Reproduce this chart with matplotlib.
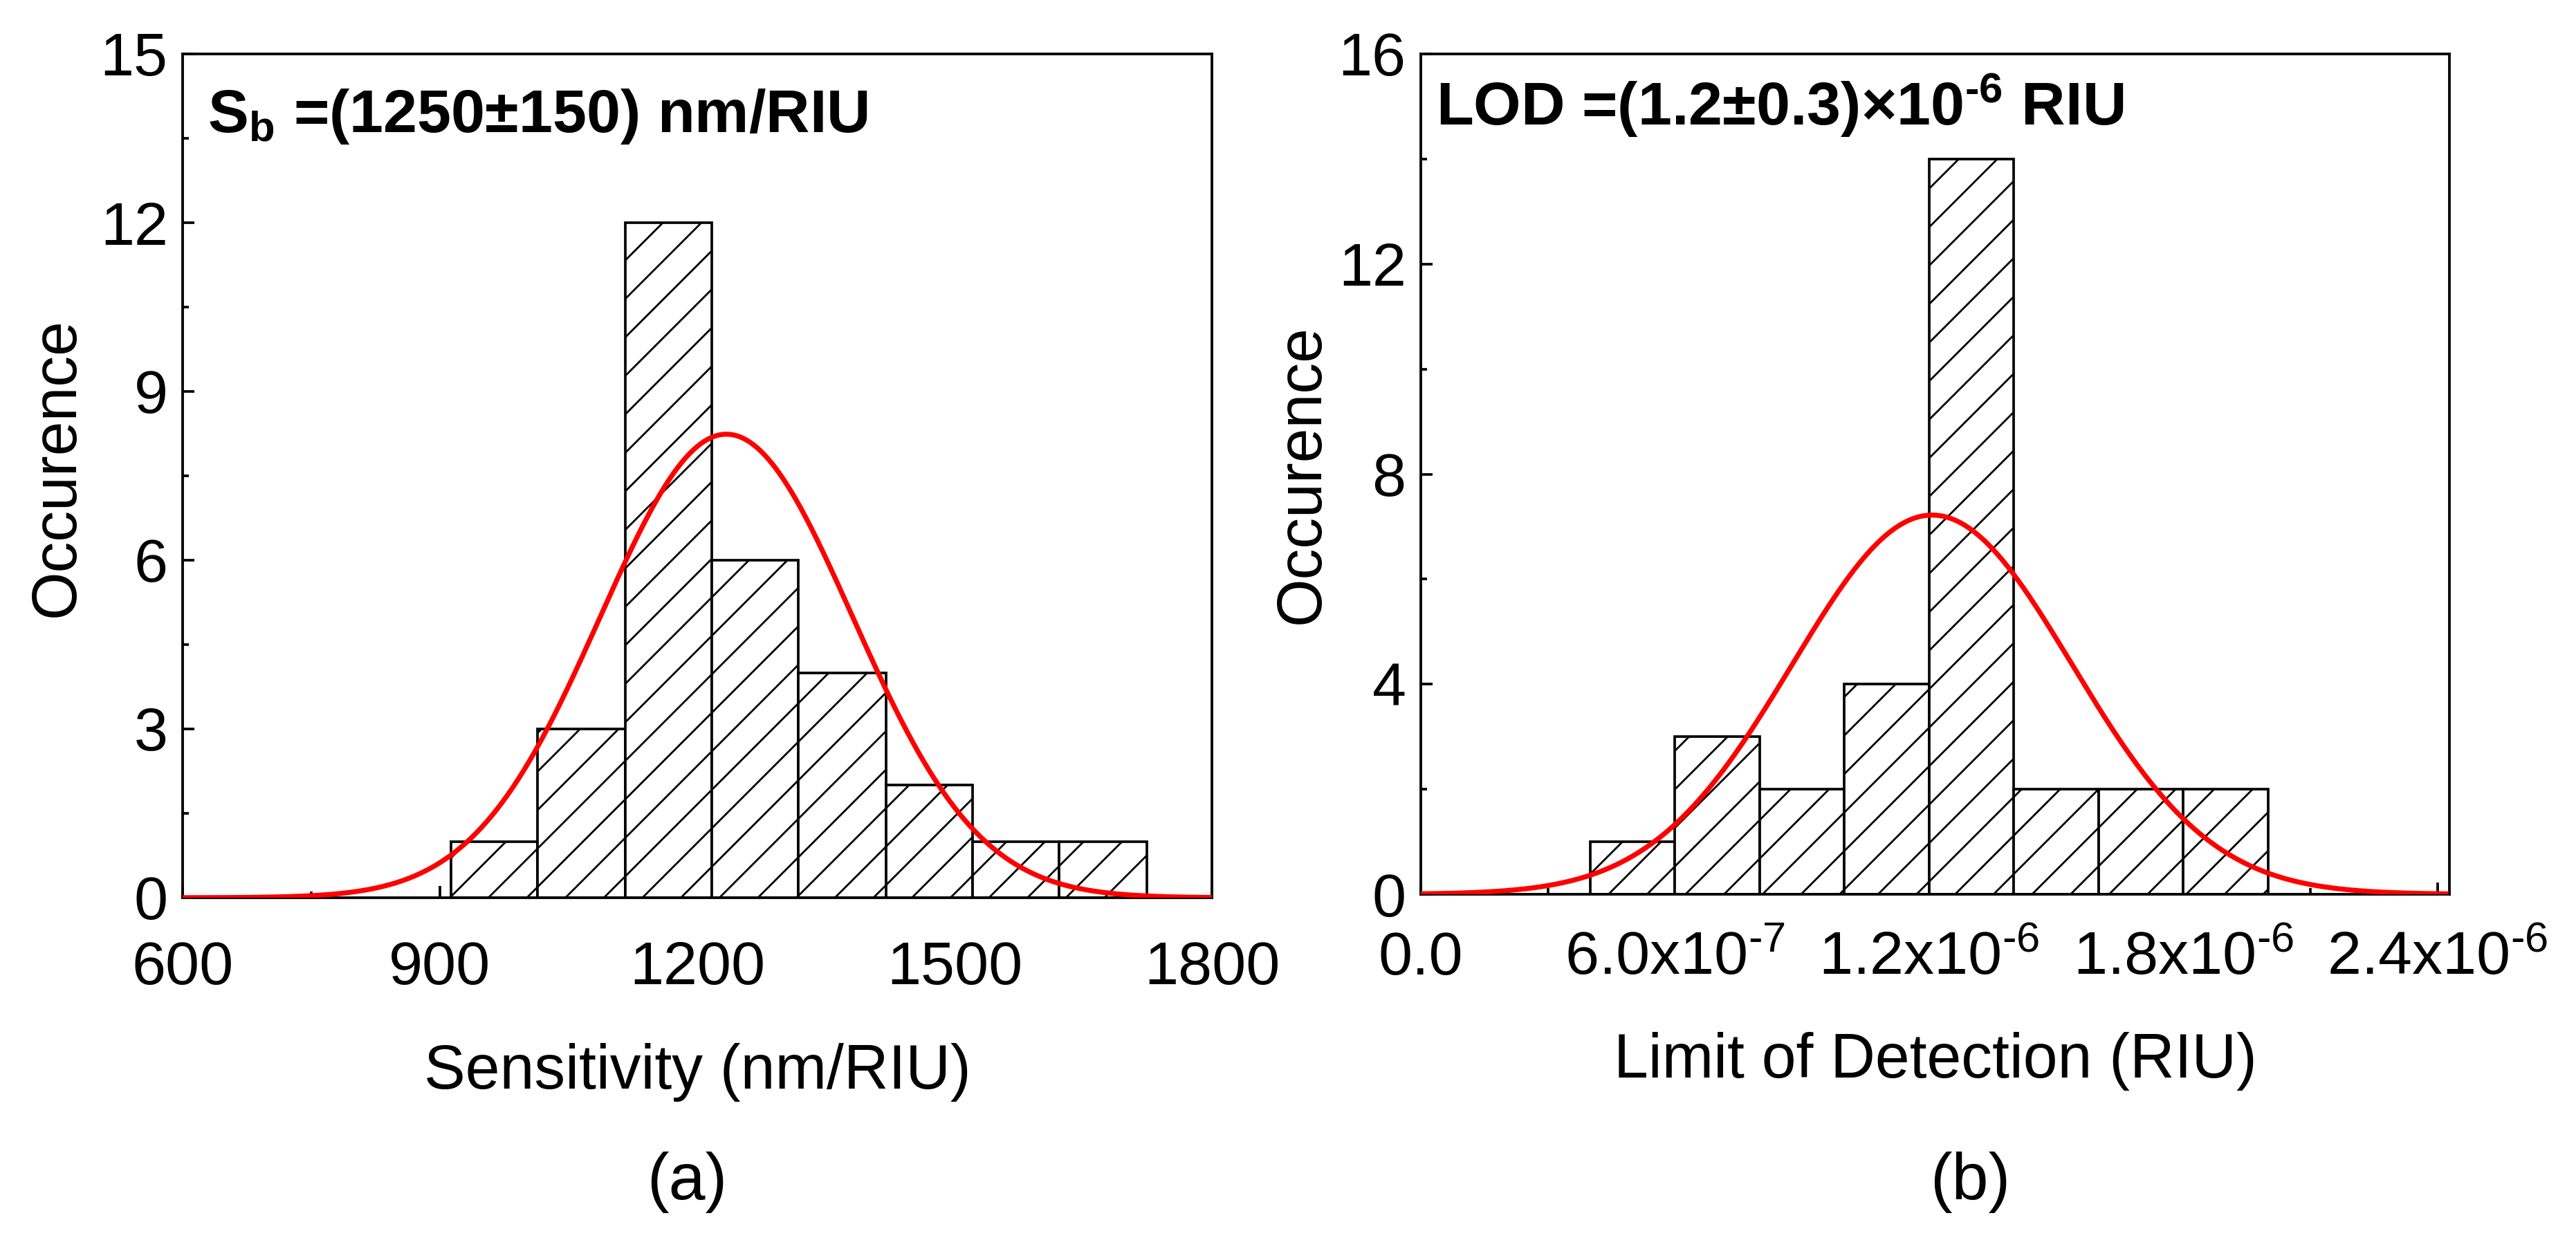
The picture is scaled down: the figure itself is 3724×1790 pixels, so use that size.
import numpy as np
import matplotlib
matplotlib.use("Agg")
import matplotlib.pyplot as plt
from matplotlib.ticker import MultipleLocator

plt.rcParams['font.family'] = ['Liberation Sans', 'DejaVu Sans']
plt.rcParams['mathtext.fontset'] = 'custom'
plt.rcParams['mathtext.rm'] = 'Liberation Sans'
plt.rcParams['mathtext.it'] = 'Liberation Sans:italic'
plt.rcParams['mathtext.bf'] = 'Liberation Sans:bold'
plt.rcParams['mathtext.sf'] = 'Liberation Sans'
plt.rcParams['hatch.linewidth'] = 0.6

HY = '\u2010'  # short hyphen used in the superscripts

# ---------------- data ----------------
sens_bin_edges = [913, 1014, 1116, 1217, 1318, 1420, 1521, 1622, 1724]
sens_counts = [1, 3, 12, 6, 4, 2, 1, 1]
sens_fit_mean = 1234.0
sens_fit_sigma = 147.0
sens_fit_peak = 8.24
sens_xlim = (600, 1800)
sens_ylim = (0, 15)
sens_xticks = [600, 900, 1200, 1500, 1800]
sens_yticks = [0, 3, 6, 9, 12, 15]

lod_bin_edges = [4.0e-7, 6.0e-7, 8.0e-7, 1.0e-6, 1.2e-6, 1.4e-6, 1.6e-6, 1.8e-6, 2.0e-6]
lod_counts = [1, 3, 2, 4, 14, 2, 2, 2]
lod_fit_mean = 1.207e-6
lod_fit_sigma = 3.3e-7
lod_fit_peak = 7.22
lod_xlim = (0, 2.428e-6)
lod_ylim = (0, 16)
lod_xticks = [0, 6e-7, 1.2e-6, 1.8e-6, 2.4e-6]
lod_xticklabels = ['0.0', '6.0x10$^{' + HY + '7}$', '1.2x10$^{' + HY + '6}$',
                   '1.8x10$^{' + HY + '6}$', '2.4x10$^{' + HY + '6}$']
lod_yticks = [0, 4, 8, 12, 16]

W, H, DPI = 3724, 1790, 334
fig = plt.figure(figsize=(W / DPI, H / DPI), dpi=DPI)

ax1 = fig.add_axes([264 / W, 1 - 1298 / H, 1488 / W, 1220 / H])
ax2 = fig.add_axes([2054 / W, 1 - 1293 / H, 1487 / W, 1215 / H])

FS = 19
LFS = 19.3
RED_LW = 1.55
BAR_LW = 0.8


def style(ax, xpad):
    for s in ax.spines.values():
        s.set_linewidth(0.82)
    ax.tick_params(which='both', direction='in', top=False, right=False,
                   width=0.8, labelsize=FS)
    ax.tick_params(which='major', length=3.7)
    ax.tick_params(which='minor', length=2.0)
    ax.tick_params(axis='y', which='major', pad=4.6)
    ax.tick_params(axis='x', which='major', pad=xpad)


def gauss(x, a, mu, sig):
    return a * np.exp(-(x - mu) ** 2 / (2 * sig ** 2))


# ---------- panel (a) ----------
e = np.array(sens_bin_edges, dtype=float)
ax1.bar(e[:-1], sens_counts, width=np.diff(e), align='edge',
        facecolor='white', edgecolor='black', linewidth=BAR_LW, hatch='//', zorder=2)
xs = np.linspace(sens_xlim[0], sens_xlim[1], 600)
ax1.plot(xs, gauss(xs, sens_fit_peak, sens_fit_mean, sens_fit_sigma),
         color='#ff0000', lw=RED_LW, zorder=3)
ax1.set_xlim(*sens_xlim)
ax1.set_ylim(*sens_ylim)
ax1.set_xticks(sens_xticks)
ax1.set_yticks(sens_yticks)
ax1.xaxis.set_minor_locator(MultipleLocator(150))
ax1.yaxis.set_minor_locator(MultipleLocator(1.5))
style(ax1, 13.4)
ax1.set_xlabel('Sensitivity (nm/RIU)', fontsize=LFS, va='baseline')
ax1.xaxis.set_label_coords(0.5, -0.2262)
ax1.set_ylabel('Occurence', fontsize=LFS, va='baseline')
ax1.yaxis.set_label_coords(-0.1055, 0.51)
ax1.text(0.024, 0.907, r'S$_{\mathbf{b}}$ =(1250±150) nm/RIU',
         transform=ax1.transAxes, fontsize=FS, fontweight='bold',
         ha='left', va='baseline')

# ---------- panel (b) ----------
e2 = np.array(lod_bin_edges, dtype=float)
ax2.bar(e2[:-1], lod_counts, width=np.diff(e2), align='edge',
        facecolor='white', edgecolor='black', linewidth=BAR_LW, hatch='//', zorder=2)
xs2 = np.linspace(0, 2.42e-6, 600)
ax2.plot(xs2, gauss(xs2, lod_fit_peak, lod_fit_mean, lod_fit_sigma),
         color='#ff0000', lw=RED_LW, zorder=3)
ax2.set_xlim(*lod_xlim)
ax2.set_ylim(*lod_ylim)
ax2.set_xticks(lod_xticks, lod_xticklabels)
ax2.set_yticks(lod_yticks)
ax2.xaxis.set_minor_locator(MultipleLocator(3e-7))
ax2.yaxis.set_minor_locator(MultipleLocator(2))
style(ax2, 11.5)
ax2.set_xlabel('Limit of Detection (RIU)', fontsize=LFS, va='baseline')
ax2.xaxis.set_label_coords(0.5, -0.2181)
ax2.set_ylabel('Occurence', fontsize=LFS, va='baseline')
ax2.yaxis.set_label_coords(-0.0989, 0.50)
ax2.text(0.0145, 0.9155, 'LOD =(1.2±0.3)×10$^{\\mathbf{' + HY + '6}}$ RIU',
         transform=ax2.transAxes, fontsize=FS, fontweight='bold',
         ha='left', va='baseline')

fig.text(993 / W, 1 - 1734 / H, '(a)', ha='center', va='baseline', fontsize=20.5)
fig.text(2848 / W, 1 - 1734 / H, '(b)', ha='center', va='baseline', fontsize=20.5)

fig.savefig('out.png', dpi=DPI)
